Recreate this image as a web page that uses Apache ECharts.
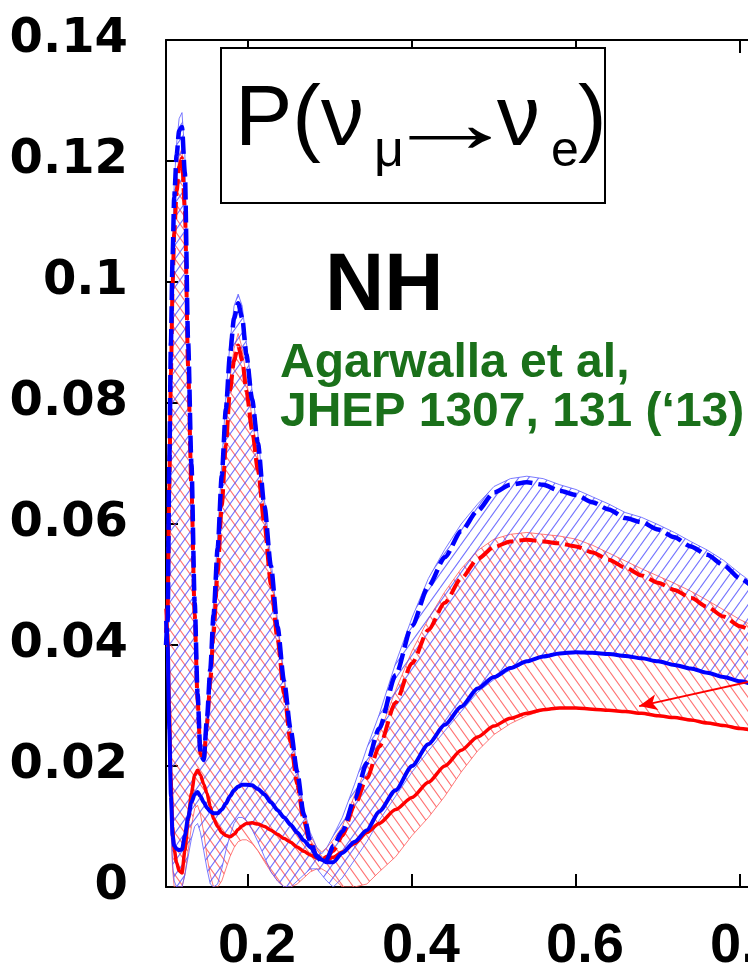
<!DOCTYPE html>
<html>
<head>
<meta charset="utf-8">
<script src="https://cdn.jsdelivr.net/npm/echarts@6/dist/echarts.min.js"></script>
<style>html,body{margin:0;padding:0;background:#fff}#c{width:748px;height:975px}</style>
</head>
<body>
<div id="c"></div>
<script>
// ---- data ----
const X = [0.100,0.102,0.104,0.106,0.108,0.110,0.113,0.116,0.1195,0.123,0.127,0.131,0.135,0.1385,0.142,0.146,0.150,0.154,0.158,0.163,0.168,0.173,0.178,0.183,0.188,0.193,0.198,0.205,0.212,0.220,0.228,0.236,0.244,0.252,0.260,0.268,0.276,0.284,0.290,0.296,0.304,0.315,0.330,0.345,0.360,0.380,0.400,0.420,0.440,0.460,0.480,0.500,0.520,0.540,0.560,0.580,0.600,0.620,0.640,0.660,0.680,0.700,0.720,0.740,0.760,0.780,0.800,0.820];

const blueDashed = [0.040,0.044,0.070,0.090,0.104,0.114,0.121,0.125,0.1256,0.118,0.090,0.070,0.047,0.032,0.022,0.021,0.028,0.036,0.045,0.056,0.068,0.079,0.088,0.094,0.0965,0.094,0.088,0.0806,0.0734,0.063,0.053,0.043,0.034,0.026,0.019,0.012,0.0075,0.005,0.0042,0.0045,0.0068,0.0092,0.0145,0.0205,0.0262,0.035,0.0432,0.0497,0.0545,0.0588,0.0622,0.0652,0.0665,0.0669,0.0665,0.0655,0.0648,0.0636,0.0624,0.0610,0.0603,0.0591,0.0578,0.0563,0.0549,0.0532,0.0510,0.0490];

const redDashed = [0.042,0.046,0.066,0.085,0.099,0.108,0.115,0.119,0.1205,0.112,0.086,0.066,0.045,0.031,0.022,0.021,0.027,0.034,0.042,0.052,0.063,0.073,0.082,0.087,0.0895,0.087,0.082,0.0755,0.069,0.060,0.050,0.041,0.032,0.024,0.017,0.011,0.007,0.005,0.0045,0.005,0.006,0.0085,0.0135,0.018,0.0232,0.0305,0.037,0.0425,0.047,0.051,0.0542,0.0562,0.0571,0.0574,0.0571,0.0568,0.0563,0.0553,0.0541,0.0528,0.0515,0.0503,0.0491,0.0478,0.0463,0.0447,0.0431,0.0418];

const blueSolid = [0.044,0.040,0.026,0.015,0.0085,0.0068,0.0063,0.0061,0.0062,0.0085,0.0115,0.0140,0.0153,0.0157,0.0150,0.0140,0.0131,0.0125,0.0122,0.0122,0.0128,0.0138,0.0150,0.0160,0.0166,0.0169,0.0169,0.0168,0.0162,0.0153,0.0140,0.0127,0.0115,0.0103,0.0090,0.0077,0.0066,0.0052,0.0045,0.0041,0.0041,0.0056,0.0075,0.0094,0.0125,0.0160,0.0200,0.0236,0.0268,0.0298,0.0328,0.0347,0.0362,0.0373,0.0381,0.0386,0.0388,0.0387,0.0385,0.0382,0.0378,0.0373,0.0367,0.0361,0.0354,0.0347,0.0340,0.0333];

const redSolid = [0.046,0.042,0.030,0.018,0.010,0.0062,0.0040,0.0027,0.0023,0.0060,0.0110,0.0155,0.0185,0.0193,0.0185,0.0170,0.0155,0.0133,0.0113,0.0100,0.0090,0.0085,0.0083,0.0087,0.0095,0.0101,0.0105,0.0106,0.0104,0.0100,0.0094,0.0087,0.0080,0.0074,0.0066,0.0059,0.0053,0.0048,0.0045,0.0045,0.0049,0.0058,0.0072,0.0090,0.0105,0.0128,0.0148,0.0173,0.0200,0.0226,0.0248,0.0266,0.0279,0.0287,0.0293,0.0296,0.0296,0.0294,0.0292,0.0290,0.0287,0.0283,0.0280,0.0276,0.0271,0.0267,0.0262,0.0258];

const blueBandHigh = [0.045,0.046,0.072,0.092,0.106,0.116,0.123,0.127,0.128,0.121,0.093,0.072,0.049,0.034,0.024,0.023,0.030,0.038,0.047,0.058,0.070,0.081,0.090,0.096,0.098,0.096,0.090,0.082,0.075,0.064,0.054,0.044,0.035,0.027,0.020,0.013,0.009,0.0065,0.0055,0.0065,0.0085,0.0115,0.017,0.023,0.0285,0.037,0.0445,0.051,0.0558,0.0600,0.0633,0.0662,0.0675,0.0679,0.0675,0.0665,0.0657,0.0645,0.0633,0.0619,0.0611,0.0599,0.0586,0.0571,0.0557,0.0540,0.0518,0.0498];

const blueBandLow = [0.038,0.034,0.020,0.010,0.004,0.001,0.0,0.0,0.0,0.002,0.005,0.008,0.010,0.0105,0.009,0.006,0.003,0.0005,0.0,0.0005,0.003,0.006,0.0085,0.0105,0.0115,0.0115,0.011,0.0095,0.0075,0.005,0.0025,0.001,0.0,0.0,0.001,0.002,0.003,0.003,0.002,0.001,0.0,0.0015,0.0045,0.0075,0.011,0.015,0.019,0.0225,0.0258,0.0290,0.0322,0.0343,0.0359,0.0371,0.0380,0.0385,0.0387,0.0386,0.0384,0.0381,0.0377,0.0372,0.0366,0.0360,0.0353,0.0346,0.0339,0.0332];

const redBandHigh = [0.047,0.047,0.068,0.087,0.101,0.110,0.117,0.121,0.122,0.114,0.088,0.068,0.047,0.033,0.024,0.023,0.029,0.036,0.044,0.054,0.065,0.075,0.084,0.089,0.0915,0.089,0.084,0.0775,0.071,0.062,0.052,0.043,0.034,0.026,0.019,0.0125,0.0085,0.0065,0.0058,0.0065,0.0078,0.010,0.0152,0.020,0.0252,0.0325,0.039,0.0443,0.0488,0.0526,0.0556,0.0575,0.0583,0.0586,0.0583,0.0580,0.0575,0.0565,0.0552,0.0539,0.0526,0.0514,0.0502,0.0489,0.0474,0.0458,0.0442,0.0429];

const redBandLow = [0.040,0.036,0.022,0.010,0.003,0.0,0.0,0.0,0.0,0.002,0.006,0.010,0.013,0.0135,0.012,0.009,0.005,0.002,0.0,0.0,0.001,0.003,0.005,0.0065,0.0075,0.0078,0.0078,0.0072,0.006,0.0042,0.0025,0.001,0.0,0.0,0.0005,0.0015,0.0025,0.003,0.003,0.0025,0.0015,0.0,0.0,0.0005,0.0025,0.005,0.0085,0.0115,0.015,0.019,0.0225,0.0252,0.0270,0.0283,0.0292,0.0295,0.0295,0.0293,0.0291,0.0289,0.0286,0.0282,0.0279,0.0275,0.0270,0.0266,0.0261,0.0257];

const xTickValues = [0.2, 0.4, 0.6, 0.8];
const xTickLabels = ['0.2', '0.4', '0.6', '0.8'];
const yTickLabels = ['0', '0.02', '0.04', '0.06', '0.08', '0.1', '0.12', '0.14'];
const arrowFrom = [0.84, 0.0348];
const arrowTo = [0.677, 0.0299];

// ---- helpers ----
function makeHatch(color, dir) {
  const w = 10, h = 14;
  const c = document.createElement('canvas');
  c.width = w; c.height = h;
  const g = c.getContext('2d');
  g.strokeStyle = color; g.lineWidth = 1.1;
  g.beginPath();
  for (let k = -1; k <= 1; k++) {
    if (dir > 0) { g.moveTo(k * w, h); g.lineTo(k * w + w, 0); }
    else { g.moveTo(k * w, 0); g.lineTo(k * w + w, h); }
  }
  g.stroke();
  return c;
}
const blueHatch = makeHatch('rgba(70,70,255,0.75)', 1);
const redHatch = makeHatch('rgba(255,70,70,0.75)', -1);

function bandSeries(name, low, high, hatch, stroke) {
  return {
    name, type: 'custom', clip: true, silent: true, z: 1,
    data: X.map((x, i) => [x, low[i], high[i]]),
    renderItem: function (params, api) {
      if (params.dataIndex !== 0) return null;
      const pts = [];
      for (let i = 0; i < X.length; i++) pts.push(api.coord([X[i], high[i]]));
      for (let i = X.length - 1; i >= 0; i--) pts.push(api.coord([X[i], low[i]]));
      return {
        type: 'polygon',
        shape: { points: pts, smooth: 0 },
        style: { fill: { image: hatch, repeat: 'repeat' }, stroke: stroke, lineWidth: 1 }
      };
    }
  };
}
function lineSeries(name, vals, color, width, dashed, z) {
  return {
    name, type: 'line', z: z, showSymbol: false, smooth: 0.25, smoothMonotone: 'x',
    data: X.map((x, i) => [x, vals[i]]),
    lineStyle: { color: color, width: width, type: dashed ? [17, 6] : 'solid', cap: 'butt' }
  };
}

const chart = echarts.init(document.getElementById('c'), null, { renderer: 'canvas' });
const redSolidSeries = lineSeries('redSolid', redSolid, '#ff0000', 3.5, false, 3);
redSolidSeries.markLine = {
  silent: true, symbol: ['none', 'arrow'], symbolSize: [12, 18], z: 6,
  lineStyle: { color: '#ff0000', width: 2, type: 'solid' },
  label: { show: false },
  data: [[{ coord: arrowFrom }, { coord: arrowTo }]]
};

const txt = (text, x, y, font, fill, extra) => Object.assign({
  type: 'text', z: 11, x: x, y: y,
  style: { text: text, font: font, fill: fill, align: 'left', verticalAlign: 'middle', textAlign: 'left', textVerticalAlign: 'middle' }
}, extra || {});

const option = {
  animation: false,
  backgroundColor: '#ffffff',
  grid: { left: 166, top: 40, bottom: 88, right: -74, containLabel: false, outerBoundsMode: 'none' },
  xAxis: [{
    type: 'value', min: 0.1, max: 0.9, position: 'bottom',
    axisLine: { show: true, lineStyle: { color: '#000', width: 2 } },
    axisTick: { show: true, inside: true, length: 13, customValues: xTickValues, lineStyle: { color: '#000', width: 2 } },
    axisLabel: {
      show: true, customValues: xTickValues, margin: 32, color: '#000',
      fontFamily: 'Liberation Sans', fontWeight: 'bold', fontSize: 56,
      padding: [0, 0, 0, 18],
      formatter: function (v) { const k = xTickValues.findIndex(t => Math.abs(t - v) < 1e-6); return k >= 0 ? xTickLabels[k] : ''; }
    },
    splitLine: { show: false }
  }, {
    type: 'value', min: 0.1, max: 0.9, position: 'top',
    axisLine: { show: true, lineStyle: { color: '#000', width: 2 } },
    axisTick: { show: true, inside: true, length: 13, customValues: xTickValues, lineStyle: { color: '#000', width: 2 } },
    axisLabel: { show: false },
    splitLine: { show: false }
  }],
  yAxis: [{
    type: 'value', min: 0, max: 0.14, interval: 0.02, position: 'left',
    axisLine: { show: true, lineStyle: { color: '#000', width: 2 } },
    axisTick: { show: true, inside: true, length: 12, lineStyle: { color: '#000', width: 2 } },
    axisLabel: {
      show: true, margin: 38, color: '#000',
      fontFamily: 'DejaVu Sans', fontWeight: 'bold', fontSize: 48,
      padding: [8, 0, 0, 0],
      formatter: function (v) { return yTickLabels[Math.round(v / 0.02)]; }
    },
    splitLine: { show: false }
  }],
  series: [
    bandSeries('redBand', redBandLow, redBandHigh, redHatch, 'rgba(255,90,90,0.8)'),
    bandSeries('blueBand', blueBandLow, blueBandHigh, blueHatch, 'rgba(90,90,255,0.8)'),
    redSolidSeries,
    lineSeries('blueSolid', blueSolid, '#0000ff', 4, false, 4),
    lineSeries('redDashed', redDashed, '#ff0000', 4, true, 3),
    lineSeries('blueDashed', blueDashed, '#0000ff', 4.5, true, 5)
  ],
  graphic: [
    { type: 'rect', z: 10, shape: { x: 221, y: 48, width: 384, height: 155 }, style: { fill: '#fff', stroke: '#000', lineWidth: 2 } },
    txt('P(\u03bd', 235, 121, '86px "Liberation Sans"', '#000'),
    txt('\u03bc', 374, 152, '52px "Liberation Sans"', '#000'),
    txt('\u2192', 381, 128, '86px "Liberation Sans"', '#000', { scaleX: 1.6, originX: 0, originY: 0 }),
    txt('\u03bd', 497, 121, '86px "Liberation Sans"', '#000'),
    txt('e', 551, 152, '50px "Liberation Sans"', '#000'),
    txt(')', 578, 121, '86px "Liberation Sans"', '#000'),
    txt('NH', 325, 287, 'bold 82px "Liberation Sans"', '#000'),
    txt('Agarwalla et al,', 280, 364, 'bold 48px "Liberation Sans"', '#1a701a'),
    txt('JHEP 1307, 131 (\u201813)', 280, 413, 'bold 48px "Liberation Sans"', '#1a701a')
  ]
};
chart.setOption(option);
</script>
</body>
</html>
